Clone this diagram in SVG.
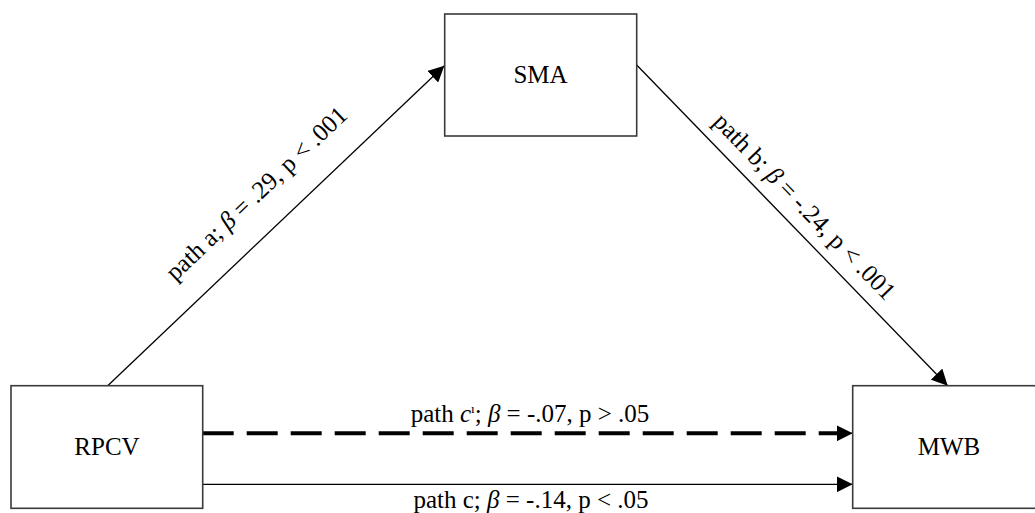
<svg xmlns="http://www.w3.org/2000/svg" width="1035" height="513" viewBox="0 0 1035 513">
  <style>
    .box { fill: #ffffff; stroke: #3a3a3a; stroke-width: 1.6; }
    .node-label { font-family: "Liberation Serif", "Times New Roman", serif; font-size: 25px; fill: #000; text-anchor: middle; }
    .edge-label { font-family: "Liberation Serif", "Times New Roman", serif; font-size: 25px; fill: #000; text-anchor: middle; }
    .edge { stroke: #000; stroke-width: 1.3; fill: none; }
    .edge-dashed { stroke: #000; stroke-width: 4; fill: none; stroke-dasharray: 31 13; }
    .it { font-style: italic; }
  </style>
  <defs>
    <marker id="arrow" markerUnits="userSpaceOnUse" markerWidth="17" markerHeight="16" refX="16" refY="8" orient="auto">
      <path d="M0,0 L16,8 L0,16 z" fill="#000"/>
    </marker>
  </defs>

  <rect width="1035" height="513" fill="#ffffff"/>

  <!-- connectors -->
  <g id="connectors">
    <line class="edge" x1="107.7" y1="385.7" x2="444.3" y2="65.7" marker-end="url(#arrow)"/>
    <line class="edge" x1="636.7" y1="65" x2="947.7" y2="385.7" marker-end="url(#arrow)"/>
    <line class="edge-dashed" x1="202.7" y1="433.3" x2="845" y2="433.3"/>
    <line class="edge" x1="845" y1="433.3" x2="852.7" y2="433.3" stroke-width="4" marker-end="url(#arrow)"/>
    <line class="edge" x1="202.7" y1="484.3" x2="852.7" y2="484.3" marker-end="url(#arrow)"/>

    <text class="edge-label" transform="translate(262,199.4) rotate(-43.55)">path a; <tspan class="it">β</tspan> = .29, p &lt; .001</text>
    <text class="edge-label" transform="translate(798.7,212.2) rotate(45.88)">path b; <tspan class="it">β</tspan> = -.24, p &lt; .001</text>
    <text class="edge-label" x="530" y="421.7">path <tspan class="it">c</tspan><tspan font-size="13" dy="-9">ı</tspan><tspan dy="9">; </tspan><tspan class="it">β</tspan> = -.07, p &gt; .05</text>
    <text class="edge-label" x="531" y="507.5">path c; <tspan class="it">β</tspan> = -.14, p &lt; .05</text>
  </g>

  <g id="node-rpcv">
    <rect class="box" x="11" y="385.7" width="191.7" height="122.6"/>
    <text class="node-label" x="107" y="455">RPCV</text>
  </g>

  <g id="node-sma">
    <rect class="box" x="444.7" y="14" width="192" height="122"/>
    <text class="node-label" x="540.5" y="83">SMA</text>
  </g>

  <g id="node-mwb">
    <rect class="box" x="852.7" y="385.7" width="192.6" height="122.6"/>
    <text class="node-label" x="949" y="454.5">MWB</text>
  </g>
</svg>
